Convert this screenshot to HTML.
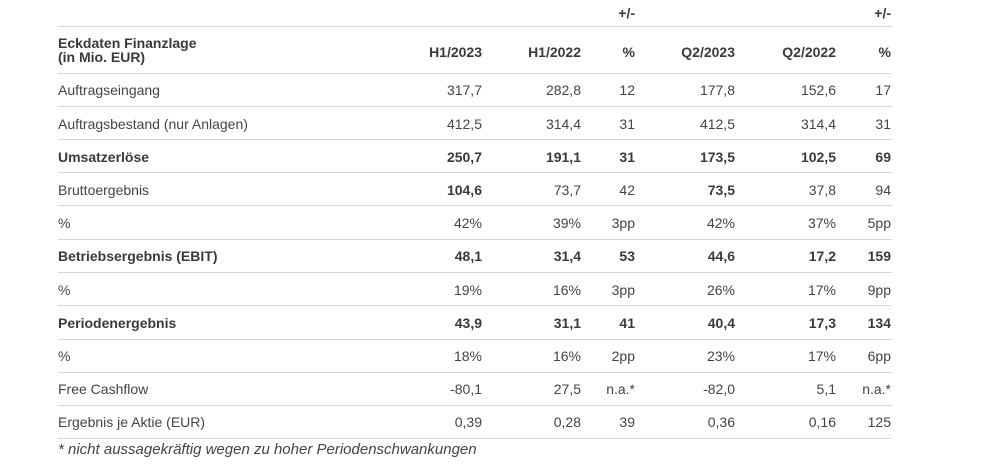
<!DOCTYPE html>
<html><head><meta charset="utf-8"><style>
body{margin:0;width:1000px;height:470px;background:#fff;font-family:"Liberation Sans",sans-serif;color:#444;font-size:14px;position:relative;overflow:hidden}
.l{position:absolute;left:58px;width:834px;height:1px;background:#d8d8d8}
.t{position:absolute;white-space:nowrap;line-height:16px}
.r{text-align:right}
b{font-weight:bold;color:#3a3a3a}
</style></head><body>
<div class="l" style="top:26px"></div>
<div class="t" style="left:600px;width:35px;top:5px;text-align:right"><b>+/-</b></div>
<div class="t" style="left:850px;width:41px;top:5px;text-align:right"><b>+/-</b></div>
<div class="t" style="left:58px;top:36px;line-height:14px"><b>Eckdaten Finanzlage<br>(in Mio. EUR)</b></div>
<div id="rows"></div>
<div class="t" style="left:58px;top:441px;font-style:italic;font-size:15px;line-height:18px">* nicht aussagekräftig wegen zu hoher Periodenschwankungen</div>
<script>
const R=[482,581,635,735,836,891];
const rows=[
 [44,["<b>H1/2023</b>","<b>H1/2022</b>","<b>%</b>","<b>Q2/2023</b>","<b>Q2/2022</b>","<b>%</b>"],null,73],
 [82,["317,7","282,8","12","177,8","152,6","17"],"Auftragseingang",106],
 [116,["412,5","314,4","31","412,5","314,4","31"],"Auftragsbestand (nur Anlagen)",139],
 [149,["<b>250,7</b>","<b>191,1</b>","<b>31</b>","<b>173,5</b>","<b>102,5</b>","<b>69</b>"],"<b>Umsatzerlöse</b>",172],
 [182,["<b>104,6</b>","73,7","42","<b>73,5</b>","37,8","94"],"Bruttoergebnis",205],
 [215,["42%","39%","3pp","42%","37%","5pp"],"%",239],
 [248,["<b>48,1</b>","<b>31,4</b>","<b>53</b>","<b>44,6</b>","<b>17,2</b>","<b>159</b>"],"<b>Betriebsergebnis (EBIT)</b>",272],
 [282,["19%","16%","3pp","26%","17%","9pp"],"%",305],
 [315,["<b>43,9</b>","<b>31,1</b>","<b>41</b>","<b>40,4</b>","<b>17,3</b>","<b>134</b>"],"<b>Periodenergebnis</b>",339],
 [348,["18%","16%","2pp","23%","17%","6pp"],"%",372],
 [381,["-80,1","27,5","n.a.*","-82,0","5,1","n.a.*"],"Free Cashflow",405],
 [414,["0,39","0,28","39","0,36","0,16","125"],"Ergebnis je Aktie (EUR)",438]];
let h="";
for(const [y,v,lab,ly] of rows){
 if(lab)h+=`<div class="t" style="left:58px;top:${y}px">${lab}</div>`;
 v.forEach((s,i)=>{h+=`<div class="t r" style="left:${R[i]-120}px;width:120px;top:${y}px">${s}</div>`});
 h+=`<div class="l" style="top:${ly}px"></div>`;
}
document.getElementById("rows").outerHTML=h;
</script>
</body></html>
